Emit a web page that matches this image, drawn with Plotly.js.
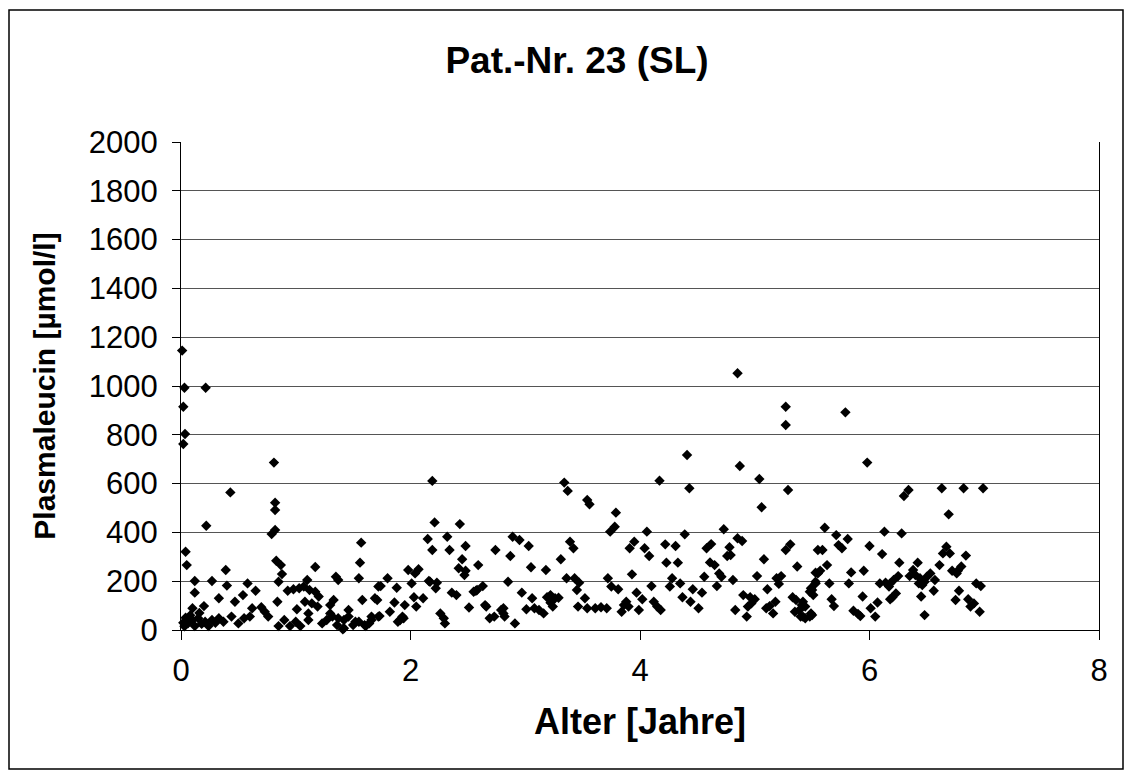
<!DOCTYPE html>
<html>
<head>
<meta charset="utf-8">
<script src="https://cdn.plot.ly/plotly-3.0.1.min.js"></script>
<style>html,body{margin:0;padding:0;background:#fff;}#chart{width:1125px;height:771px;}</style>
</head>
<body>
<div id="chart"></div>
<script>
// Age in years (x) and plasma leucine in µmol/l (y)
const ageYears = [
 0.01,0.03,0.215,0.02,0.035,0.02,0.81,0.43,0.82,0.82,0.22,0.82,0.79,0.04,0.05,0.39,0.83,0.87,0.88,0.12,0.27,0.40,0.58,0.85,0.12,0.33,0.47,0.54,0.65,0.84,0.10,0.20,0.70,0.73,0.76,0.62,0.60,0.06,0.10,0.15,0.21,0.27,0.33,0.37,0.44,0.50,0.55,0.12,0.24,0.85,0.90,0.02,0.04,0.08,0.16,0.03,0.18,0.30,
 0.93,0.98,1.03,1.07,1.12,1.17,1.20,1.10,1.08,1.14,1.33,1.30,1.19,1.01,0.95,1.00,1.04,1.11,1.11,1.23,1.27,1.32,1.36,1.42,1.46,1.50,1.55,1.61,1.66,1.72,1.17,1.35,1.37,1.57,1.56,1.55,1.58,1.69,1.72,1.71,1.30,1.46,1.42,1.37,1.52,1.60,1.64,1.66,1.41,1.74,1.73,1.82,1.80,
 1.88,1.86,1.95,1.91,1.93,1.98,2.07,2.04,2.01,2.16,2.23,2.22,2.36,2.40,2.57,2.63,2.03,2.05,2.11,2.51,2.65,2.66,2.26,2.29,2.30,2.69,2.73,1.89,1.94,2.19,2.21,2.43,2.15,2.32,2.19,2.34,2.48,2.74,2.45,2.59,2.42,2.48,2.47,2.55,2.58,2.17,2.79,2.81,2.82,
 3.34,3.37,3.54,3.56,3.79,3.74,3.78,4.06,4.17,2.89,2.95,3.03,2.87,3.39,3.42,3.31,3.05,3.18,3.91,3.95,4.04,4.08,3.93,2.85,3.36,3.43,3.47,3.45,3.72,3.75,3.81,4.10,2.97,3.06,3.01,3.08,3.12,3.16,3.22,3.26,3.29,3.24,3.52,3.46,3.54,3.61,3.66,3.71,3.84,3.88,3.90,3.97,4.02,3.99,4.12,4.15,2.81,2.91,3.19,3.22,3.86,4.18,
 4.85,5.27,5.79,5.27,4.41,4.87,4.43,5.04,5.29,5.06,4.39,4.73,4.85,4.89,4.22,4.31,4.58,4.62,4.78,4.76,4.79,5.31,5.27,5.55,4.23,4.33,4.61,4.65,5.08,5.37,5.53,4.56,4.69,4.71,4.81,5.02,5.19,5.23,5.21,4.28,4.26,4.35,4.46,4.54,4.67,5.11,5.50,5.51,5.53,4.37,4.44,4.90,4.96,5.00,4.94,5.18,5.10,5.16,5.33,5.35,5.41,5.44,5.42,5.50,4.51,4.83,4.93,4.97,5.13,
 5.98,6.30,6.34,6.63,6.82,6.99,6.69,5.61,5.71,5.81,6.13,6.28,5.59,5.73,5.76,6.00,6.11,6.67,6.64,6.70,6.84,6.26,6.42,6.61,5.63,5.57,5.55,5.84,5.95,6.38,6.35,6.72,6.77,6.80,6.76,6.25,6.21,6.18,6.17,6.09,6.14,5.82,5.65,6.44,6.40,6.43,6.48,6.50,6.53,6.57,6.56,6.93,6.97,6.78,5.94,6.07,6.01,6.20,6.18,6.45,6.75,6.86,6.91,6.88,6.96,5.67,5.69,5.86,5.90,5.92,6.05,6.48,5.53,5.49,5.48,5.42,5.36,5.39,5.40,5.48,5.49,5.44,6.23,6.46
];
const leucine = [
 1145,993,993,915,803,762,686,564,522,492,427,410,393,321,266,246,284,266,229,201,201,182,191,198,153,130,116,143,161,116,89,98,93,75,55,89,55,27,41,48,34,41,48,34,55,27,48,16,16,16,41,30,50,60,70,15,25,30,
 161,167,171,178,164,157,137,205,116,109,123,102,96,85,16,34,16,41,68,27,41,55,20,7,55,20,34,16,41,55,258,218,205,358,276,212,123,130,178,123,68,82,41,48,34,20,27,55,3,180,57,75,212,
 173,113,102,41,55,246,249,232,191,201,194,171,153,143,161,180,134,96,130,92,102,96,68,48,27,48,55,34,48,611,441,434,373,382,328,328,344,328,290,266,253,243,225,157,164,198,82,68,55,
 604,570,533,515,481,403,423,403,612,382,369,344,303,362,335,290,257,246,335,362,335,303,228,198,212,212,194,164,212,178,167,180,153,130,85,89,82,68,143,130,132,96,130,96,89,89,93,89,75,116,96,153,126,82,116,96,89,27,134,112,102,82,
 1052,915,892,840,717,672,581,619,574,503,392,413,376,365,351,344,335,352,339,303,307,351,328,328,276,276,277,266,290,260,235,218,232,218,205,221,212,221,189,212,178,191,167,153,180,167,164,143,198,134,116,143,134,126,96,116,89,68,134,75,102,96,55,61,89,82,55,109,98,
 686,549,574,581,581,581,474,419,389,373,403,396,328,348,335,344,311,341,314,314,305,276,276,266,266,243,232,236,243,246,221,243,243,260,232,221,205,191,178,191,194,191,191,212,225,191,198,218,232,205,161,191,180,161,137,113,89,134,126,137,123,126,109,96,75,126,98,79,66,57,55,61,191,171,157,116,123,82,55,55,68,48,150,184
];
const xTicks = [0, 2, 4, 6, 8];
const yTicks = [0, 200, 400, 600, 800, 1000, 1200, 1400, 1600, 1800, 2000];

const FONT = '"Liberation Sans", Arial, Helvetica, sans-serif';
const L = 181, R = 1099, T = 142, B = 630, W = 1125, H = 771;
const pw = R - L, ph = B - T;
const px = v => (v - L) / pw, py = v => (B - v) / ph;

const trace = {
  type: 'scatter', mode: 'markers', x: ageYears, y: leucine,
  marker: {symbol: 'diamond', size: 8, color: '#000'},
  cliponaxis: false, hoverinfo: 'x+y'
};

const layout = {
  width: W, height: H,
  margin: {l: L, r: W - R, t: T, b: H - B, pad: 0},
  paper_bgcolor: '#fff', plot_bgcolor: '#fff',
  showlegend: false,
  font: {family: FONT, color: '#000'},
  title: {text: 'Pat.-Nr. 23 (SL)', font: {family: FONT, size: 37, weight: 'bold', color: '#000'},
          x: 577 / W, xanchor: 'center', y: 1 - 60 / H, yanchor: 'middle', yref: 'container', xref: 'container'},
  xaxis: {
    range: [0, 8], tickvals: xTicks, ticktext: xTicks.map(String),
    showgrid: false, zeroline: false, showline: true, linecolor: '#000', linewidth: 1,
    ticks: 'outside', ticklen: 9, tickcolor: '#000', tickwidth: 1,
    tickfont: {family: FONT, size: 31, color: '#000'}, ticklabelstandoff: 4,
    title: {text: '<b>Alter [Jahre]</b>', font: {family: FONT, size: 36, color: '#000'}, standoff: 21},
    fixedrange: true
  },
  yaxis: {
    range: [0, 2000], tickvals: yTicks, ticktext: yTicks.map(String),
    showgrid: true, gridcolor: '#555', gridwidth: 1,
    zeroline: false, showline: true, linecolor: '#000', linewidth: 1, mirror: true,
    ticks: 'outside', ticklen: 8, tickcolor: '#000', tickwidth: 1,
    tickfont: {family: FONT, size: 31, color: '#000'}, ticklabelstandoff: 8,
    title: {text: '<b>Plasmaleucin [µmol/l]</b>', font: {family: FONT, size: 30, color: '#000'}, standoff: 24},
    fixedrange: true
  },
  shapes: [{
    type: 'rect', xref: 'paper', yref: 'paper',
    x0: px(9), x1: px(1123), y0: py(769), y1: py(10),
    line: {color: '#000', width: 1.5}, fillcolor: 'rgba(0,0,0,0)', layer: 'below'
  }]
};

Plotly.newPlot('chart', [trace], layout, {displayModeBar: false, staticPlot: true});
</script>
</body>
</html>
